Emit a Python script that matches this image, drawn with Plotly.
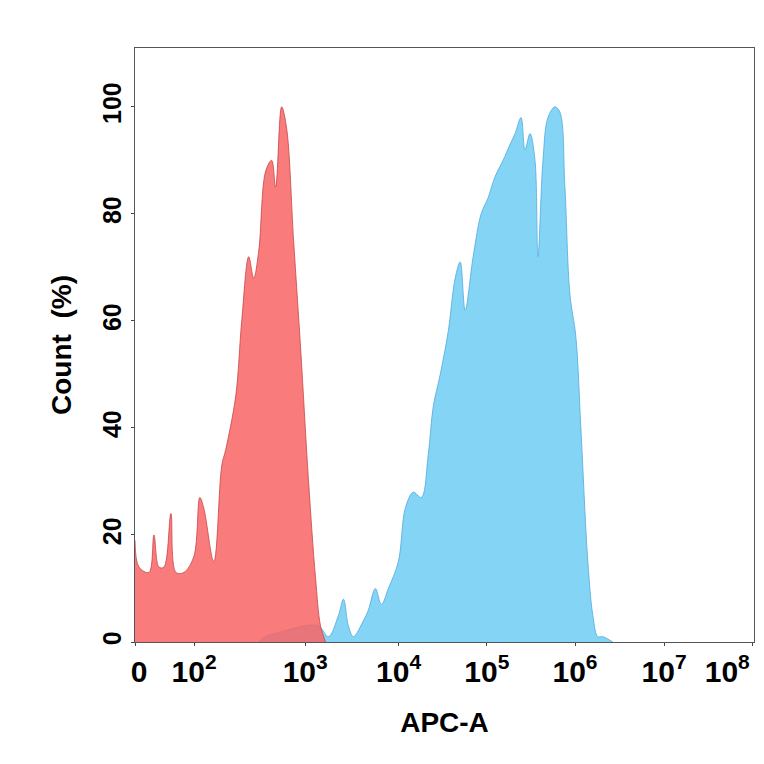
import plotly.graph_objects as go

# x positions in display units (0 .. 7, biexponential-like display scale)
tick_vals = [0, 0.67, 1.93, 2.99, 3.99, 4.99, 6.0, 7.0]
tick_text = ["<b>&nbsp;0</b>", "<b>10<sup>2</sup></b>", "<b>10<sup>3</sup></b>", "<b>10<sup>4</sup></b>", "<b>10<sup>5</sup></b>",
             "<b>10<sup>6</sup></b>", "<b>10<sup>7</sup></b>", "<b>10<sup>8</sup>&nbsp;&nbsp;&nbsp;&nbsp;&nbsp;&nbsp;</b>"]
y_ticks = [0, 20, 40, 60, 80, 100]

red_px = [131,135,145,150,155,160,167,172,180,190,196,200,210,218,222,232,238,245,250,255,262,268,272,278,283,290,297,305,312,317,322]
red_y = [19,14,13,20,14,14,24,13,13,16,27,25,15,33,36,46,60,72,68,73,88,90,85,100,96,75,55,30,12,3,0]

blue_px = [255,262,280,300,315,325,335,340,345,350,360,365,372,378,385,395,402,410,418,425,430,437,445,452,457,462,470,478,485,492,500,507,512,518,522,527,532,535,540,545,552,557,562,567,573,578,585,590,595,600,610]
blue_y = [0,1,2,3,3,1,5,8,3,1,4,6,10,7,10,15,25,28,27,35,44,50,58,68,71,62,72,80,83,87,90,93,95,98,92,95,90,72,90,98,100,99,85,65,57,40,15,5,1,1,0]

def to_u(px):
    return [(p - 131) / 88.4 for p in px]

fig = go.Figure()
fig.add_trace(go.Scatter(x=to_u(blue_px), y=blue_y, fill="tozeroy", mode="lines",
                         line=dict(color="rgba(80,170,220,0.8)", width=1, shape="spline"),
                         fillcolor="rgba(110,205,245,0.85)"))
fig.add_trace(go.Scatter(x=to_u(red_px), y=red_y, fill="tozeroy", mode="lines",
                         line=dict(color="rgba(200,70,70,0.8)", width=1, shape="spline"),
                         fillcolor="rgba(248,100,100,0.85)"))

font = dict(family="Liberation Sans", size=28, color="black")
fig.update_layout(
    width=764, height=764, showlegend=False, plot_bgcolor="white", paper_bgcolor="white",
    margin=dict(l=127, r=18, t=40, b=130, autoexpand=False),
    xaxis=dict(range=[0, 7.02], tickvals=tick_vals, ticktext=tick_text, showgrid=False, zeroline=False,
               showline=True, linecolor="#555", mirror=True, ticks="outside", ticklen=3,
               ticklabeloverflow="allow", automargin=False,
               tickfont=dict(family="Liberation Sans", size=30, color="black"),
               title=dict(text="<b>APC-A</b>", font=font, standoff=25)),
    yaxis=dict(range=[0, 111], tickvals=y_ticks, ticktext=["<b>%d</b>" % v for v in y_ticks],
               showgrid=False, zeroline=False, automargin=False,
               showline=True, linecolor="#555", mirror=True, ticks="outside", ticklen=3, tickangle=-90,
               tickfont=dict(family="Liberation Sans", size=25, color="black"),
               title=dict(text="<b>Count  (%)</b>", font=font, standoff=18)),
)
fig.write_html("out.html")
